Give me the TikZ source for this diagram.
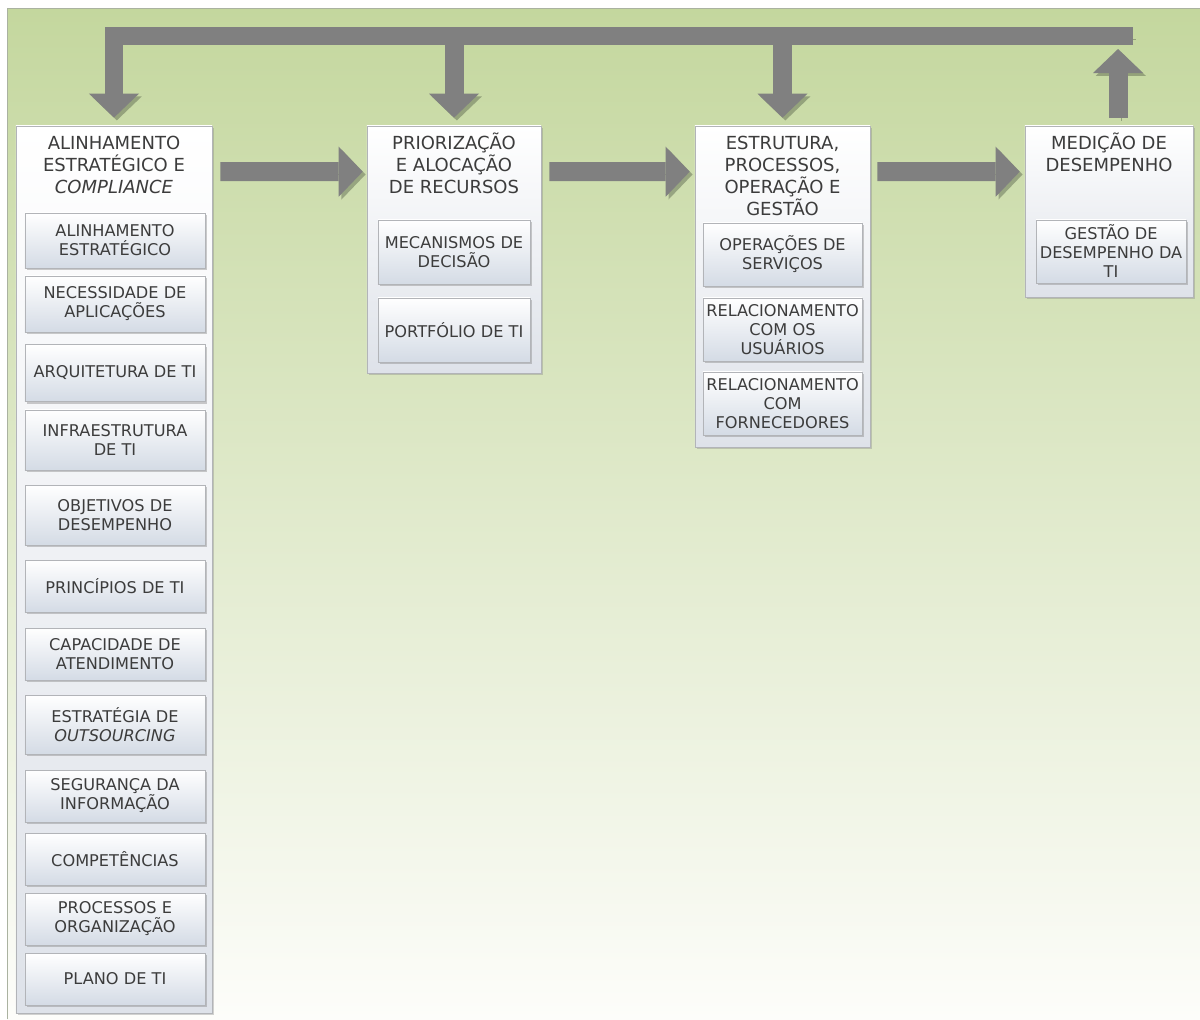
\documentclass[tikz,border=0pt]{standalone}
\usepackage{fontspec}
\setmainfont{DejaVu Sans}
\usepackage{tikz}
\usetikzlibrary{arrows.meta,shadows,calc}
\definecolor{bgtop}{RGB}{196,215,158}
\definecolor{bgbot}{RGB}{253,253,250}
\definecolor{panelline}{RGB}{170,178,160}
\definecolor{boxline}{RGB}{178,180,184}
\definecolor{stagebot}{RGB}{222,226,233}
\definecolor{taskbot}{RGB}{212,219,229}
\definecolor{txt}{RGB}{60,60,60}
\definecolor{arrowgray}{RGB}{128,128,128}
\definecolor{arrowshade}{RGB}{70,80,60}
\newcommand\titlefont{\fontsize{12.8}{15.6}\selectfont}
\newcommand\taskfont{\fontsize{11.5}{13.5}\selectfont}
\tikzset{
  stage/.style={draw=boxline, top color=white, bottom color=stagebot, inner sep=0pt,
                drop shadow={shadow xshift=1.5pt, shadow yshift=-1.5pt, opacity=0.35}},
  stagetitle/.style={anchor=north, align=center, inner sep=0pt, font=\titlefont, text=txt},
  task/.style={draw=boxline, top color=white, bottom color=taskbot, inner sep=1pt,
               align=center, font=\taskfont, text=txt,
               drop shadow={shadow xshift=1.5pt, shadow yshift=-1.5pt, opacity=0.4}},
  flow/.style={line width=0.475cm, draw=arrowgray,
               -{Triangle[length=0.6cm, width=1.25cm, line width=0pt]},
               preaction={draw=arrowshade, opacity=0.4,
                          transform canvas={shift={(2pt,-2pt)}}}},
  bar/.style={line width=0.45cm, draw=arrowgray, line join=miter,
              preaction={draw=arrowshade, opacity=0.4,
                         transform canvas={shift={(2pt,-2pt)}}}}
}
\newcommand\ul{\rule{0pt}{12.5pt}}

\begin{document}
\begin{tikzpicture}[x=0.025cm,y=-0.025cm]
\useasboundingbox (0,0) rectangle (1200,1019);
% background panel
\shade[top color=bgtop, bottom color=bgbot] (7,8) rectangle (1200,1019);
\draw[panelline] (7,1019) -- (7,8) -- (1200,8);

% stages
\node[stage, minimum width=4.9cm, minimum height=22.175cm] (alin) at (114,569.5) {};
\node[stage, minimum width=4.35cm, minimum height=6.175cm] (prior) at (454,249.5) {};
\node[stage, minimum width=4.375cm, minimum height=8.025cm] (estr) at (782.5,286.5) {};
\node[stage, minimum width=4.2cm, minimum height=4.275cm] (medic) at (1109,211.5) {};

\node[stagetitle] (alinT) at ([yshift=-0.16cm]alin.north)
  {\ul ALINHAMENTO\\ESTRATÉGICO E\\\textit{COMPLIANCE}};
\node[stagetitle] (priorT) at ([yshift=-0.16cm]prior.north)
  {\ul PRIORIZAÇÃO\\E ALOCAÇÃO\\DE RECURSOS};
\node[stagetitle] (estrT) at ([yshift=-0.16cm]estr.north)
  {\ul ESTRUTURA,\\PROCESSOS,\\OPERAÇÃO E\\GESTÃO};
\node[stagetitle] (medicT) at ([yshift=-0.16cm]medic.north)
  {\ul MEDIÇÃO DE\\DESEMPENHO};

% tasks of the first stage
\node[task, minimum width=4.5cm, minimum height=1.375cm] (a1) at (115,240.5) {ALINHAMENTO\\ESTRATÉGICO};
\node[task, minimum width=4.5cm, minimum height=1.4cm] (a2) at (115,304) {NECESSIDADE DE\\APLICAÇÕES};
\node[task, minimum width=4.5cm, minimum height=1.425cm] (a3) at (115,373) {ARQUITETURA DE TI};
\node[task, minimum width=4.5cm, minimum height=1.5cm] (a4) at (115,440) {INFRAESTRUTURA\\DE TI};
\node[task, minimum width=4.5cm, minimum height=1.5cm] (a5) at (115,515) {OBJETIVOS DE\\DESEMPENHO};
\node[task, minimum width=4.5cm, minimum height=1.3cm] (a6) at (115,586) {PRINCÍPIOS DE TI};
\node[task, minimum width=4.5cm, minimum height=1.3cm] (a7) at (115,654) {CAPACIDADE DE\\ATENDIMENTO};
\node[task, minimum width=4.5cm, minimum height=1.475cm] (a8) at (115,724.5) {ESTRATÉGIA DE\\\textit{OUTSOURCING}};
\node[task, minimum width=4.5cm, minimum height=1.3cm] (a9) at (115,796) {SEGURANÇA DA\\INFORMAÇÃO};
\node[task, minimum width=4.5cm, minimum height=1.3cm] (a10) at (115,859) {COMPETÊNCIAS};
\node[task, minimum width=4.5cm, minimum height=1.3cm] (a11) at (115,919) {PROCESSOS E\\ORGANIZAÇÃO};
\node[task, minimum width=4.5cm, minimum height=1.3cm] (a12) at (115,979) {PLANO DE TI};

% tasks of the other stages
\node[task, minimum width=3.8cm, minimum height=1.6cm] (p1) at (454,252) {MECANISMOS DE\\DECISÃO};
\node[task, minimum width=3.8cm, minimum height=1.6cm] (p2) at (454,330) {PORTFÓLIO DE TI};
\node[task, minimum width=3.975cm, minimum height=1.575cm] (e1) at (782.5,254.5) {OPERAÇÕES DE\\SERVIÇOS};
\node[task, minimum width=3.975cm, minimum height=1.575cm] (e2) at (782.5,329.5) {RELACIONAMENTO\\COM OS\\USUÁRIOS};
\node[task, minimum width=3.975cm, minimum height=1.575cm] (e3) at (782.5,403.5) {RELACIONAMENTO\\COM\\FORNECEDORES};
\node[task, minimum width=3.75cm, minimum height=1.575cm] (m1) at (1111,251.5) {GESTÃO DE\\DESEMPENHO DA\\TI};

% flow between stages
\draw[flow, shorten <=0.2cm, shorten >=0.1cm] ([yshift=-1.15cm]alin.north east) -- ([yshift=-1.15cm]prior.north west);
\draw[flow, shorten <=0.2cm, shorten >=0.125cm] ([yshift=-1.15cm]prior.north east) -- ([yshift=-1.15cm]estr.north west);
\draw[flow, shorten <=0.175cm, shorten >=0.125cm] ([yshift=-1.15cm]estr.north east) -- ([yshift=-1.15cm]medic.north west);

% feedback loop
\coordinate (ret) at (1133,36);
\coordinate (retB) at (1133,44);
\draw[flow, shorten <=0.2cm, shorten >=0.125cm] ([xshift=0.225cm]medic.north) -- ([xshift=0.225cm]medic.north |- retB);
\draw[bar, -{Triangle[length=0.6cm, width=1.25cm, line width=0pt]}, shorten >=0.2cm] (ret) -| (alin);
\draw[flow, shorten >=0.2cm] (prior |- retB) -- (prior);
\draw[flow, shorten >=0.2cm] (estr |- retB) -- (estr);
\end{tikzpicture}
\end{document}
